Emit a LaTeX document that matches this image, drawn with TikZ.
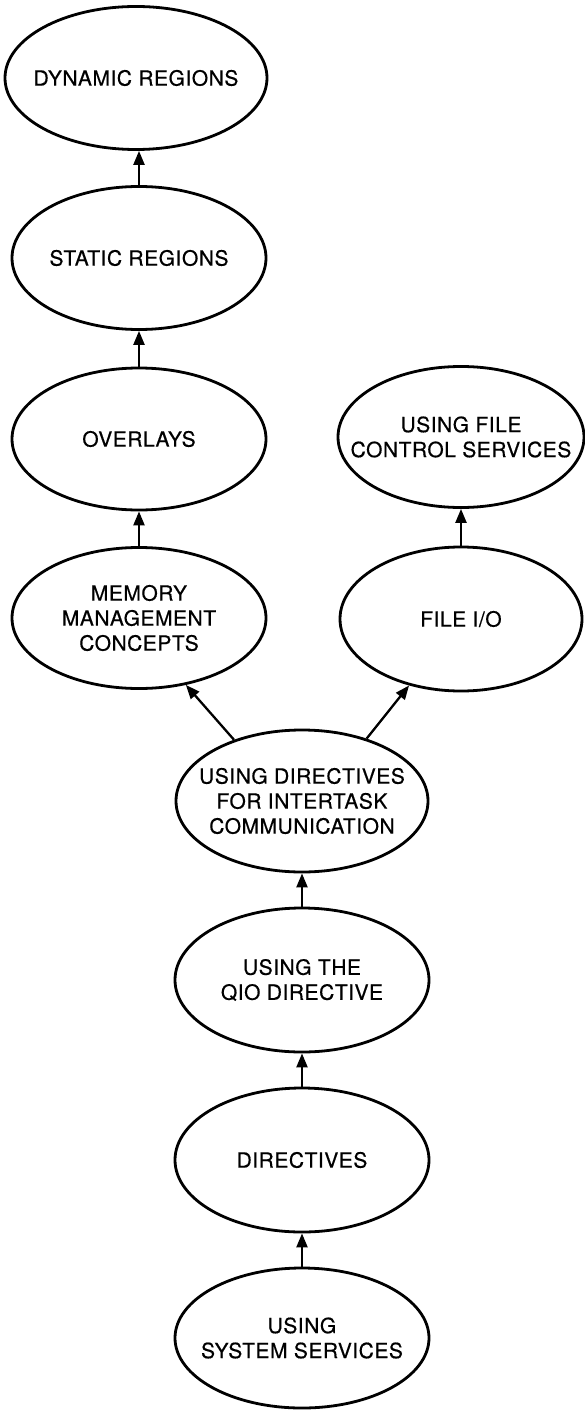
\documentclass[tikz,border=0pt]{standalone}
\usepackage{fontspec}
\setmainfont{TeX Gyre Heros}[LetterSpace=2.5, FakeBold=0.5]
\usetikzlibrary{arrows.meta,shapes.geometric}

\tikzset{
  bubble/.style={draw=black, line width=2.8pt, ellipse, inner sep=0pt},
  caption/.style={font=\fontsize{21}{25}\selectfont, align=center, inner sep=0pt, text=black},
  uparrow/.style={draw=black, line width=2.3pt, -{Triangle[length=14pt,width=11pt]}},
}

\begin{document}
\begin{tikzpicture}[x=1pt,y=-1pt]
  \useasboundingbox[fill=white] (0,0) rectangle (584,1412);

  % left column: memory topics
  \node[bubble, minimum width=262, minimum height=143] (dyn)  at (136,78)  {};
  \node[bubble, minimum width=254, minimum height=143] (stat) at (139,258) {};
  \node[bubble, minimum width=254, minimum height=142] (ovl)  at (139,439) {};
  \node[bubble, minimum width=254, minimum height=141] (mem)  at (139,618) {};

  % right column: file topics
  \node[bubble, minimum width=246, minimum height=141] (fcs) at (461,437) {};
  \node[bubble, minimum width=242, minimum height=144] (fio) at (461,619) {};

  % centre column: the common path
  \node[bubble, minimum width=252, minimum height=142] (itc) at (302,801)  {};
  \node[bubble, minimum width=254, minimum height=144] (qio) at (302,980)  {};
  \node[bubble, minimum width=254, minimum height=144] (drv) at (302,1160) {};
  \node[bubble, minimum width=254, minimum height=140] (sys) at (302,1338) {};

  % captions
  \node[caption] (dyn-t)  at (dyn)  {DYNAMIC REGIONS};
  \node[caption] (stat-t) at (stat) {STATIC REGIONS};
  \node[caption] (ovl-t)  at (ovl)  {OVERLAYS};
  \node[caption] (mem-t)  at (mem)  {MEMORY\\MANAGEMENT\\CONCEPTS};
  \node[caption] (fcs-t)  at (fcs)  {USING FILE\\CONTROL SERVICES};
  \node[caption] (fio-t)  at (fio)  {FILE I/O};
  \node[caption] (itc-t)  at (itc)  {USING DIRECTIVES\\FOR INTERTASK\\COMMUNICATION};
  \node[caption] (qio-t)  at (qio)  {USING THE\\QIO DIRECTIVE};
  \node[caption] (drv-t)  at (drv)  {DIRECTIVES};
  \node[caption] (sys-t)  at (sys)  {USING\\SYSTEM SERVICES};

  % prerequisite arrows
  \draw[uparrow] (stat.north) -- (dyn.south -| stat.north);
  \draw[uparrow] (ovl.north) -- (stat.south);
  \draw[uparrow] (mem.north) -- (ovl.south);
  \draw[uparrow] (fio.north) -- (fcs.south);
  \draw[uparrow] (itc.138.5) -- (mem.-55);
  \draw[uparrow] (itc.44) -- (fio.-128);
  \draw[uparrow] (qio.north) -- (itc.south);
  \draw[uparrow] (drv.north) -- (qio.south);
  \draw[uparrow] (sys.north) -- (drv.south);
\end{tikzpicture}
\end{document}
